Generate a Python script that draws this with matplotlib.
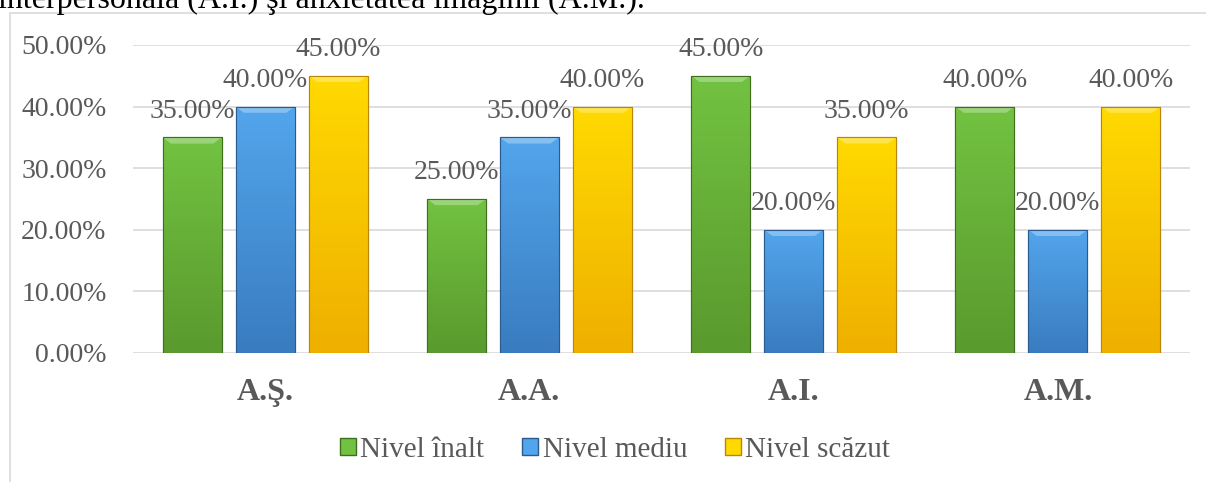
import matplotlib.pyplot as plt
import numpy as np
from matplotlib.patches import Rectangle, Patch, Polygon
from matplotlib.colors import LinearSegmentedColormap

plt.rcParams['font.family'] = 'Liberation Serif'

categories = ['A.Ş.', 'A.A.', 'A.I.', 'A.M.']
series = ['Nivel înalt', 'Nivel mediu', 'Nivel scăzut']
nivel_inalt = [35, 25, 45, 40]
nivel_mediu = [40, 35, 20, 20]
nivel_scazut = [45, 40, 35, 40]
values = [nivel_inalt, nivel_mediu, nivel_scazut]
yticks = [0, 10, 20, 30, 40, 50]
caption = 'interpersonală (A.I.) şi anxietatea imaginii (A.M.).'

# (top, bottom, edge) colours for the bevelled bars
colors = [('#72c241', '#5a9a2e', '#3f6e1f'),
          ('#52a5ec', '#3a7cc0', '#2a5a8e'),
          ('#ffd900', '#efb000', '#b8860b')]
text_color = '#595959'

fig = plt.figure(figsize=(12.06, 4.82), dpi=100)
ax = fig.add_axes([133 / 1206, 1 - 353 / 482, 1057 / 1206, 308 / 482])

# chart frame and cut caption line above it
fig.add_artist(Rectangle((10 / 1206, -0.1), 1.2, 1 - 13 / 482 + 0.1,
                         transform=fig.transFigure, fill=False,
                         edgecolor='#d9d9d9', lw=1.2))
fig.text(-0.002, 1 - 8 / 482, caption, fontsize=23, color='black', va='baseline')

x = np.arange(len(categories))
width = 0.223
step = 0.276

for i, (vals, (ctop, cbot, cedge)) in enumerate(zip(values, colors)):
    pos = x + (i - 1) * step
    bars = ax.bar(pos, vals, width, color=cbot, edgecolor=cedge, lw=0.8, zorder=3)
    cmap = LinearSegmentedColormap.from_list('g', [ctop, cbot])
    for b, v in zip(bars, vals):
        x0, w = b.get_x(), b.get_width()
        im = ax.imshow(np.linspace(0, 1, 50).reshape(-1, 1), cmap=cmap,
                       extent=[x0, x0 + w, 0, v], aspect='auto', zorder=3.5)
        im.set_clip_path(b)
        # top bevel
        d = w * 0.14
        ax.add_patch(Polygon([(x0, v), (x0 + w, v), (x0 + w - d, v - 1.0), (x0 + d, v - 1.0)],
                             closed=True, facecolor='white', alpha=0.3, lw=0, zorder=4))
        ax.add_patch(Rectangle((x0, 0), w, v, fill=False, edgecolor=cedge, lw=0.8, zorder=4))
        ax.text(x0 + w / 2, v + 2.2, f'{v:.2f}%', ha='center', va='bottom',
                fontsize=20, color=text_color, zorder=5)

ax.set_xlim(-0.5, len(categories) - 0.5)
ax.set_ylim(0, 50)
ax.set_yticks(yticks)
ax.set_yticklabels([f'{t:.2f}%' for t in yticks], fontsize=20, color=text_color)
ax.set_xticks(x)
ax.set_xticklabels(categories, fontsize=23, fontweight='bold', color=text_color)
ax.tick_params(axis='both', length=0)
ax.tick_params(axis='x', pad=18)
ax.tick_params(axis='y', pad=19)
ax.grid(axis='y', color='#d9d9d9', lw=1.2, zorder=0)
for s in ax.spines.values():
    s.set_visible(False)

handles = [Patch(facecolor=c[0], edgecolor=c[2], label=s) for s, c in zip(series, colors)]
fig.legend(handles=handles, loc='center', bbox_to_anchor=(0.51, 1 - 450 / 482),
           ncols=3, frameon=False, fontsize=21, handlelength=0.55, handleheight=0.55,
           handletextpad=0.15, columnspacing=1.3, labelcolor=text_color)

fig.savefig('out.png', dpi=100)
